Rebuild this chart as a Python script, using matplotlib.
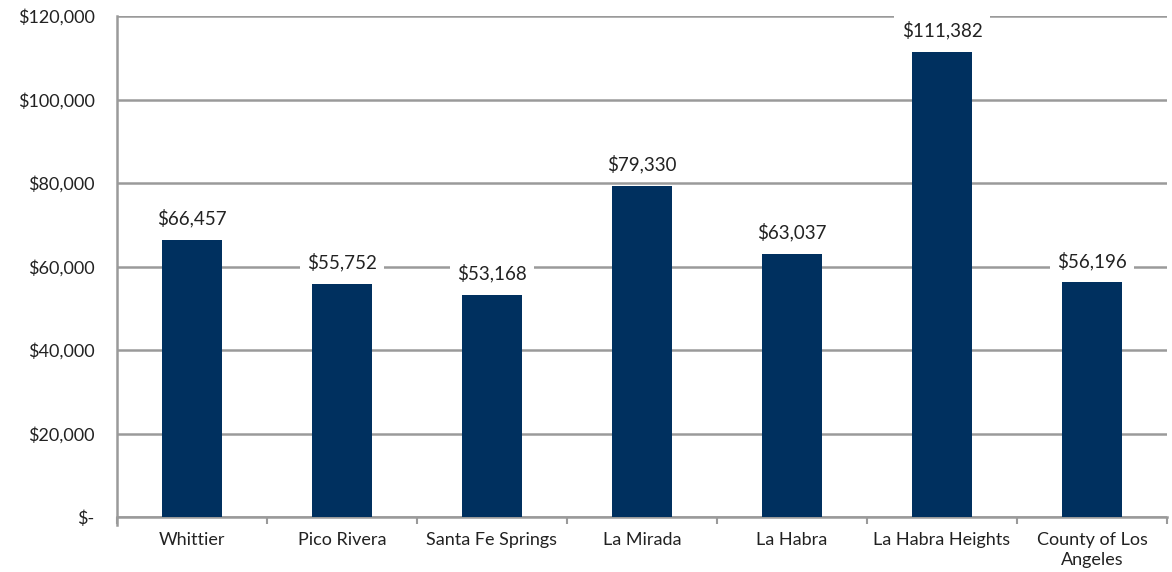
import matplotlib
matplotlib.use("Agg")
import matplotlib.pyplot as plt
from matplotlib.ticker import FuncFormatter, FixedLocator

cities = ["Whittier", "Pico Rivera", "Santa Fe Springs", "La Mirada",
          "La Habra", "La Habra Heights", "County of Los\nAngeles"]
median_income = [66457, 55752, 53168, 79330, 63037, 111382, 56196]
y_ticks = [0, 20000, 40000, 60000, 80000, 100000, 120000]

plt.rcParams["font.family"] = ["Lato", "DejaVu Sans"]

fig = plt.figure(figsize=(11.72, 5.72), dpi=100)
ax = fig.add_axes([117 / 1172, 55 / 572, 1050 / 1172, 501 / 572])

bar_color = "#00305f"
grid_color = "#9a9a9a"
text_color = "#222222"

x = list(range(len(cities)))
bars = ax.bar(x, median_income, width=0.4, color=bar_color, zorder=3)

ax.set_xlim(-0.5, len(cities) - 0.5)
ax.set_ylim(0, 120000)
ax.yaxis.set_major_locator(FixedLocator(y_ticks))
ax.yaxis.set_major_formatter(FuncFormatter(lambda v, p: "$-" if v == 0 else f"${v:,.0f}"))
ax.yaxis.grid(True, color=grid_color, linewidth=1.8, zorder=0)
ax.tick_params(axis="y", length=0, pad=16, labelsize=13, labelcolor=text_color)

ax.set_xticks(x)
ax.set_xticklabels(cities, fontsize=13, color=text_color, linespacing=1.3)
ax.tick_params(axis="x", length=0, pad=11)
ax.xaxis.set_minor_locator(FixedLocator([i - 0.5 for i in range(len(cities) + 1)]))
ax.tick_params(axis="x", which="minor", length=5, width=1.5, color=grid_color, direction="out")

for side in ["top", "right"]:
    ax.spines[side].set_visible(False)
ax.spines["left"].set_color(grid_color)
ax.spines["left"].set_linewidth(1.8)
ax.spines["bottom"].set_color(grid_color)
ax.spines["bottom"].set_linewidth(1.8)
ax.spines["left"].set_bounds(-2000, 120000)

for rect, val in zip(bars, median_income):
    ax.annotate(f"${val:,}", (rect.get_x() + rect.get_width() / 2, val),
                xytext=(0, 9), textcoords="offset points", ha="center", va="bottom",
                fontsize=13.5, color=text_color, zorder=5,
                bbox=dict(boxstyle="square,pad=0.4", fc="white", ec="none"))

fig.savefig("out.png", dpi=100, facecolor="white")
